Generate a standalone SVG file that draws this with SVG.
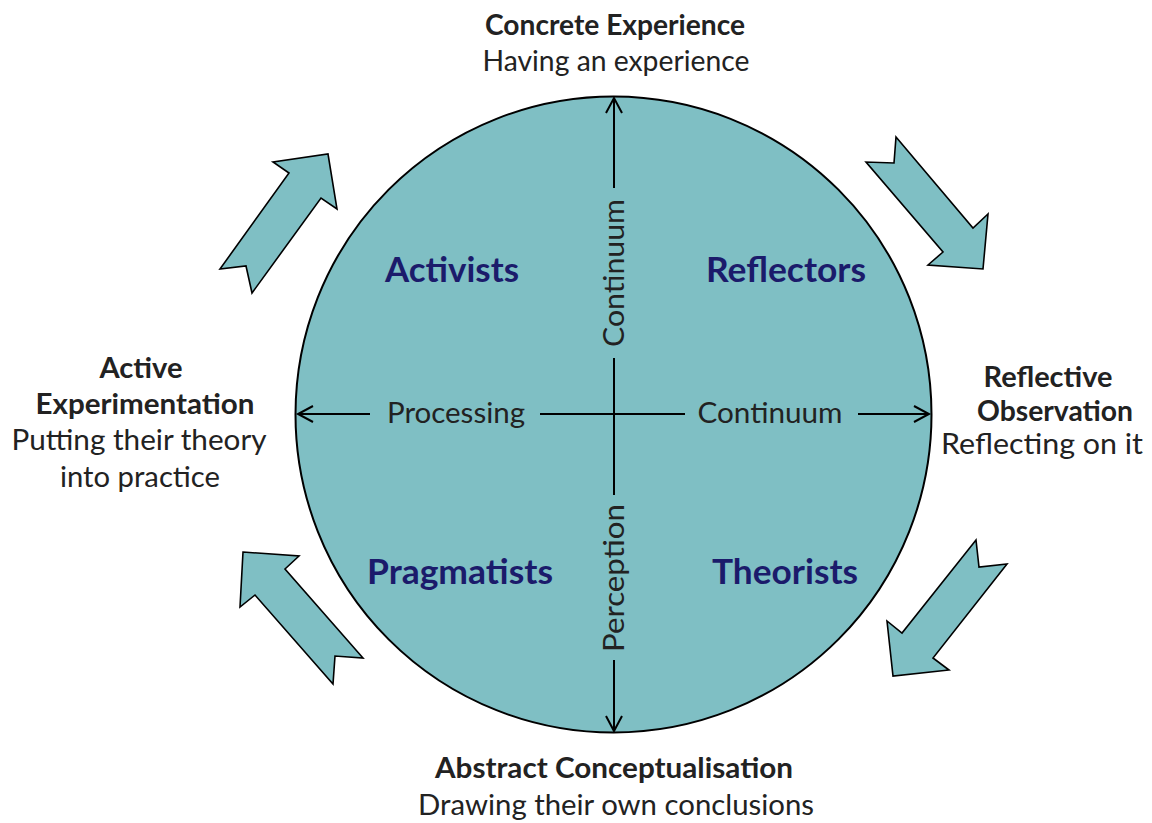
<svg xmlns="http://www.w3.org/2000/svg" width="1152" height="823" viewBox="0 0 1152 823">
<style>
.lbl{font-family:Lato,"Open Sans",sans-serif;font-size:28px;fill:#222;text-anchor:middle}
.b{font-weight:bold}
.q{font-family:Lato,"Open Sans",sans-serif;font-size:34px;font-weight:bold;fill:#1b1b6b;text-anchor:middle}
.ax{font-family:Lato,"Open Sans",sans-serif;font-size:28px;fill:#222;text-anchor:middle}
.blk{fill:#7fbfc4;stroke:#000;stroke-width:1.6;stroke-linejoin:miter}
.axis{stroke:#000;stroke-width:2;fill:none}
</style>
<defs>
<marker id="ah" markerUnits="userSpaceOnUse" markerWidth="20" markerHeight="20" viewBox="-17 -10 20 20" refX="0" refY="0" orient="auto">
<polyline points="-15,-8 0,0 -15,8" fill="none" stroke="#000" stroke-width="2"/>
</marker>
</defs>
<rect width="1152" height="823" fill="#fff"/>
<g id="circle">
<circle cx="613.5" cy="414.5" r="318" fill="#7fbfc4" stroke="#000" stroke-width="2"/>
</g>
<g id="connectors">
<line class="axis" x1="614" y1="188" x2="614" y2="98" marker-end="url(#ah)"/>
<line class="axis" x1="614" y1="358" x2="614" y2="495"/>
<line class="axis" x1="614" y1="660" x2="614" y2="731" marker-end="url(#ah)"/>
<line class="axis" x1="370" y1="414" x2="298" y2="414" marker-end="url(#ah)"/>
<line class="axis" x1="540" y1="414" x2="685" y2="414"/>
<line class="axis" x1="858" y1="414" x2="929" y2="414" marker-end="url(#ah)"/>
<polygon id="arrow-tl" class="blk" points="328,154 337,209 321,198 252,293 246,266 220,269 289,173 273,162"/>
<polygon id="arrow-tr" class="blk" points="896,137 973,228 988,214 983,269 928,265 943,252 866,162 894,163"/>
<polygon id="arrow-br" class="blk" points="976,540 979,567 1007,564 933,658 949,670 893,676 887,621 902,633"/>
<polygon id="arrow-bl" class="blk" points="243,552 299,556 285,569 363,658 335,656 333,684 255,595 240,607"/>
</g>
<g id="axis-labels">
<text class="ax" x="456" y="423" textLength="138" lengthAdjust="spacingAndGlyphs">Processing</text>
<text class="ax" x="770" y="423" textLength="145" lengthAdjust="spacingAndGlyphs">Continuum</text>
<text class="ax" transform="translate(614,273) rotate(-90)" x="0" y="10" textLength="148" lengthAdjust="spacingAndGlyphs">Continuum</text>
<text class="ax" transform="translate(614,578) rotate(-90)" x="0" y="10" textLength="148" lengthAdjust="spacingAndGlyphs">Perception</text>
</g>
<g id="activists"><text class="q" x="452" y="282" textLength="134" lengthAdjust="spacingAndGlyphs">Activists</text></g>
<g id="reflectors"><text class="q" x="786" y="282" textLength="160" lengthAdjust="spacingAndGlyphs">Reflectors</text></g>
<g id="pragmatists"><text class="q" x="460" y="584" textLength="186" lengthAdjust="spacingAndGlyphs">Pragmatists</text></g>
<g id="theorists"><text class="q" x="785" y="584" textLength="146" lengthAdjust="spacingAndGlyphs">Theorists</text></g>
<g id="concrete-experience">
<text class="lbl b" x="615" y="35" textLength="260" lengthAdjust="spacingAndGlyphs">Concrete Experience</text>
<text class="lbl" x="616" y="71" textLength="267" lengthAdjust="spacingAndGlyphs">Having an experience</text>
</g>
<g id="reflective-observation">
<text class="lbl b" x="1048" y="387" textLength="129" lengthAdjust="spacingAndGlyphs">Reflective</text>
<text class="lbl b" x="1055" y="421" textLength="156" lengthAdjust="spacingAndGlyphs">Observation</text>
<text class="lbl" x="1042" y="454" textLength="202" lengthAdjust="spacingAndGlyphs">Reflecting on it</text>
</g>
<g id="abstract-conceptualisation">
<text class="lbl b" x="614" y="778" textLength="358" lengthAdjust="spacingAndGlyphs">Abstract Conceptualisation</text>
<text class="lbl" x="616" y="815" textLength="396" lengthAdjust="spacingAndGlyphs">Drawing their own conclusions</text>
</g>
<g id="active-experimentation">
<text class="lbl b" x="141" y="378" textLength="83" lengthAdjust="spacingAndGlyphs">Active</text>
<text class="lbl b" x="145" y="414" textLength="219" lengthAdjust="spacingAndGlyphs">Experimentation</text>
<text class="lbl" x="139" y="450" textLength="255" lengthAdjust="spacingAndGlyphs">Putting their theory</text>
<text class="lbl" x="140" y="487" textLength="160" lengthAdjust="spacingAndGlyphs">into practice</text>
</g>
</svg>
